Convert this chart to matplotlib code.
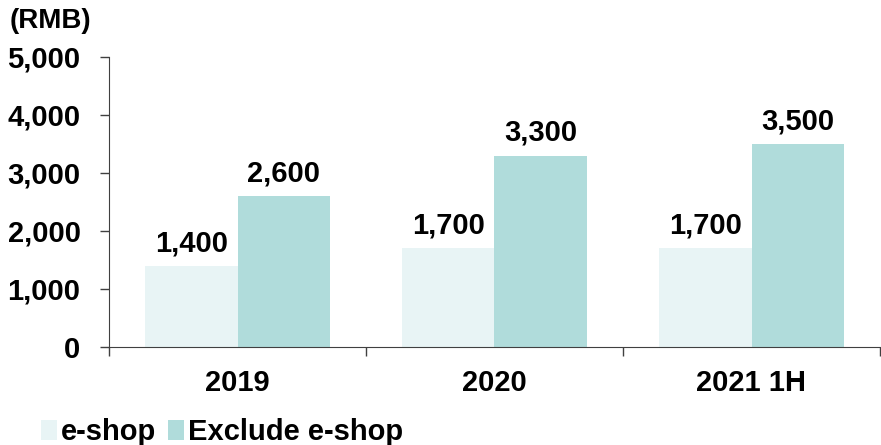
import matplotlib
matplotlib.use('Agg')
import matplotlib.pyplot as plt
import numpy as np

# Data
categories = ['2019', '2020', '2021 1H']
eshop = [1400, 1700, 1700]
exclude_eshop = [2600, 3300, 3500]
yticks = [0, 1000, 2000, 3000, 4000, 5000]

plt.rcParams['font.family'] = ['Liberation Sans', 'DejaVu Sans']
plt.rcParams['font.weight'] = 'bold'
FS = 21

fig = plt.figure(figsize=(8.81, 4.45), dpi=100)
ax = fig.add_axes([109 / 881, 98 / 445, 771 / 881, 290 / 445])

x = np.arange(len(categories))
w = 0.36
b1 = ax.bar(x - w / 2, eshop, w, color='#E8F4F5', label='e-shop')
b2 = ax.bar(x + w / 2, exclude_eshop, w, color='#B0DCDB', label='Exclude e-shop')

for bars in (b1, b2):
    for r in bars:
        ax.text(r.get_x() + r.get_width() / 2, r.get_height() + 150,
                f'{int(r.get_height()):,}', ha='center', va='bottom',
                fontsize=FS, fontweight='bold')

ax.set_xlim(-0.5, len(categories) - 0.5)
ax.set_ylim(0, 5000)
ax.set_yticks(yticks)
ax.set_yticklabels([f'{v:,}' for v in yticks], fontsize=FS, fontweight='bold')
ax.tick_params(axis='y', length=6.5, width=1, color='#404040', pad=14)

# category boundaries as ticks, labels at centers
ax.set_xticks(np.arange(-0.5, len(categories)), minor=False)
ax.set_xticklabels([])
ax.set_xticks(x, minor=True)
ax.set_xticklabels(categories, minor=True, fontsize=FS, fontweight='bold')
ax.tick_params(axis='x', which='major', length=6.5, width=1, color='#404040')
ax.tick_params(axis='x', which='minor', length=0, pad=16)

for s in ('top', 'right'):
    ax.spines[s].set_visible(False)
ax.spines['left'].set_color('#404040')
ax.spines['bottom'].set_color('#404040')

fig.text(10 / 881, 1 - 21 / 445, '(RMB)', fontsize=20, fontweight='bold', va='center')

fig.legend(loc='lower left', bbox_to_anchor=(26 / 881, -0.035), ncol=2, frameon=False,
           handlelength=0.55, handleheight=0.7, handletextpad=0.15,
           columnspacing=0.4, borderaxespad=0.1, prop={'weight': 'bold', 'size': FS})

fig.savefig('out.png', dpi=100, facecolor='white')
